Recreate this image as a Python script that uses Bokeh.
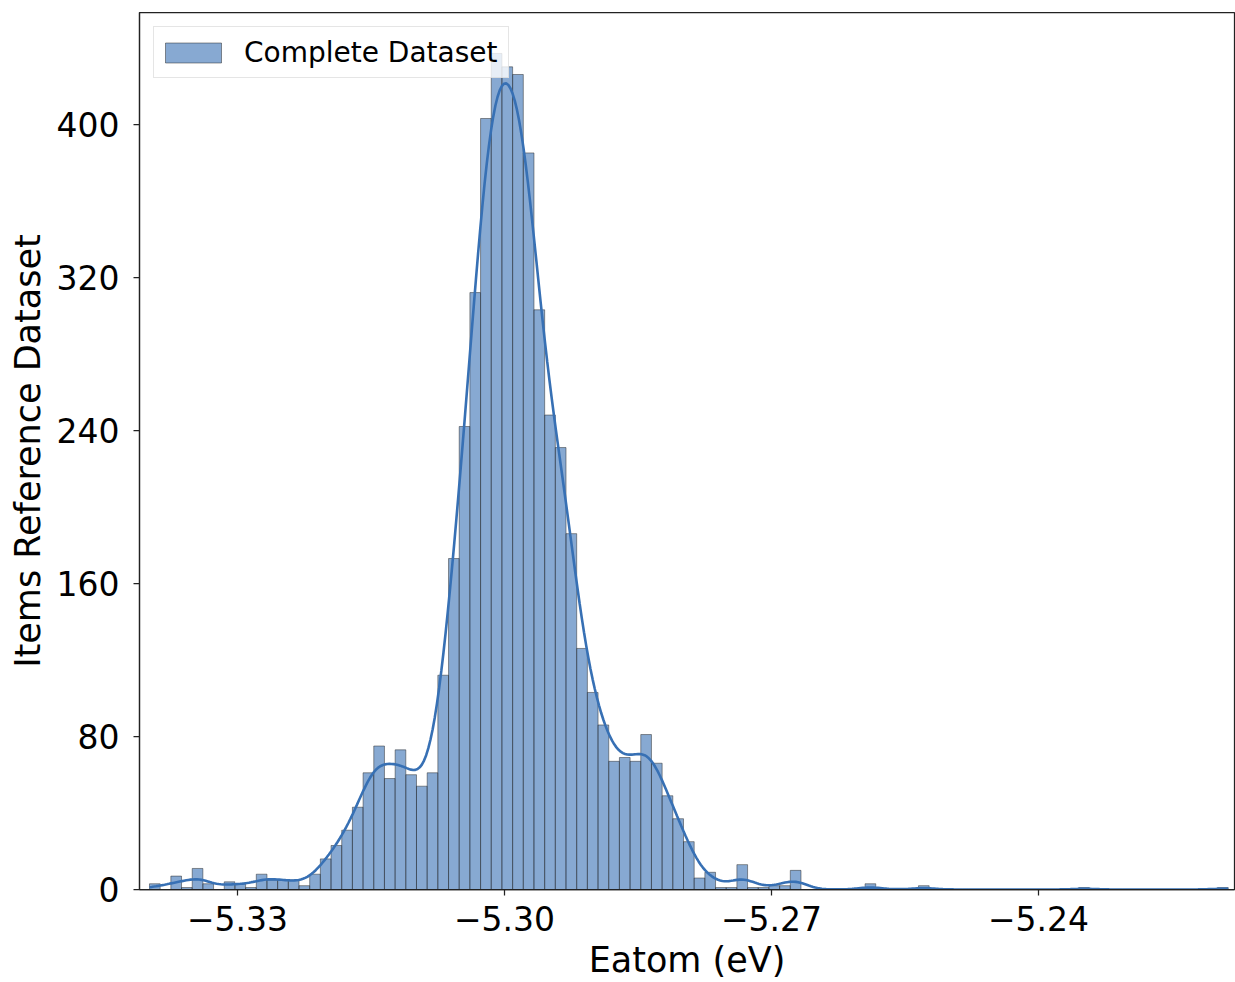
import numpy as np
from bokeh.plotting import figure
from bokeh.models import ColumnDataSource, FixedTicker, Range1d
from bokeh.embed import file_html
from bokeh.resources import INLINE

# ---- data ----
bin_start = -5.339888
bin_width = 0.0012
counts = [3, 0, 7, 1, 11, 3, 0, 4, 3, 1,
          8, 5, 5, 5, 2, 8, 16, 23, 31, 43,
          61, 75, 58, 73, 60, 54, 61, 112, 173, 242,
          312, 403, 437, 430, 426, 385, 303, 248, 231, 186,
          126, 103, 86, 67, 69, 67, 81, 66, 49, 37,
          25, 6, 9, 1, 1, 13, 1, 1, 2, 2,
          10, 0, 0, 0, 0, 0, 0, 3, 0, 0,
          0, 0, 2, 0, 0, 0, 0, 0, 0, 0,
          0, 0, 0, 0, 0, 0, 0, 1, 0, 0,
          0, 0, 0, 0, 0, 0, 0, 0, 0, 0,
          1]
x_ticks = [-5.33, -5.30, -5.27, -5.24]
x_tick_labels = ["\u22125.33", "\u22125.30", "\u22125.27", "\u22125.24"]
y_ticks = [0, 80, 160, 240, 320, 400]
series_label = "Complete Dataset"

# ---- histogram geometry & KDE from the counts ----
edges = bin_start + bin_width * np.arange(len(counts) + 1)
centers = 0.5 * (edges[:-1] + edges[1:])
c = np.array(counts, dtype=float)
n = c.sum()
mean = (c * centers).sum() / n
std = np.sqrt((c * (centers - mean) ** 2).sum() / (n - 1))
bw = 0.9 * std * n ** (-1 / 5)
grid = np.linspace(edges[0], edges[-1], 500)
dens = (c[None, :] * np.exp(-0.5 * ((grid[:, None] - centers[None, :]) / bw) ** 2)).sum(1) / (n * bw * np.sqrt(2 * np.pi))
kde = dens * n * bin_width

base = "#3770b4"

p = figure(width=1235, height=982, output_backend="svg", toolbar_location=None,
           x_range=Range1d(-5.34101, -5.21798), y_range=Range1d(0, 458.4),
           min_border_left=139, min_border_right=1, min_border_top=12, min_border_bottom=91)
p.grid.visible = False
p.outline_line_color = "#222222"
p.outline_line_width = 1.25
p.background_fill_color = "white"
p.border_fill_color = "white"

src = ColumnDataSource(dict(left=edges[:-1], right=edges[1:], top=c, bottom=np.zeros_like(c)))
p.quad(left="left", right="right", top="top", bottom="bottom", source=src,
       fill_color=base, fill_alpha=0.6, line_color="#222222", line_alpha=0.6, line_width=0.8,
       legend_label=series_label)
p.line(grid, kde, line_color=base, line_width=2.6)

for ax in (p.xaxis[0], p.yaxis[0]):
    ax.axis_line_color = "#222222"
    ax.axis_line_width = 1.25
    ax.major_tick_line_color = "#222222"
    ax.major_tick_line_width = 1.25
    ax.major_tick_out = 6
    ax.major_tick_in = 0
    ax.minor_tick_line_color = None
    ax.major_label_text_font = "DejaVu Sans"
    ax.major_label_text_font_size = "33px"
    ax.major_label_text_color = "black"
    ax.axis_label_text_font = "DejaVu Sans"
    ax.axis_label_text_font_size = "35px"
    ax.axis_label_text_font_style = "normal"
    ax.axis_label_text_color = "black"

p.xaxis.ticker = FixedTicker(ticks=x_ticks)
p.xaxis.major_label_overrides = {t: l for t, l in zip(x_ticks, x_tick_labels)}
p.xaxis.axis_label = "Eatom (eV)"
p.xaxis.major_label_standoff = 10
p.xaxis.axis_label_standoff = 6

p.yaxis.ticker = FixedTicker(ticks=y_ticks)
p.yaxis.axis_label = "Items Reference Dataset"
p.yaxis.major_label_standoff = 14
p.yaxis.axis_label_standoff = 6

lg = p.legend[0]
lg.location = "top_left"
lg.margin = 14
lg.padding = 4
lg.spacing = 0
lg.glyph_width = 70
lg.glyph_height = 25
lg.label_standoff = 16
lg.label_height = 42
lg.label_width = 260
lg.label_text_font = "DejaVu Sans"
lg.label_text_font_size = "28px"
lg.label_text_color = "black"
lg.label_text_line_height = 1.0
lg.border_line_color = "#cccccc"
lg.border_line_width = 1
lg.background_fill_alpha = 0.8

open("out.html", "w").write(file_html(p, INLINE))
